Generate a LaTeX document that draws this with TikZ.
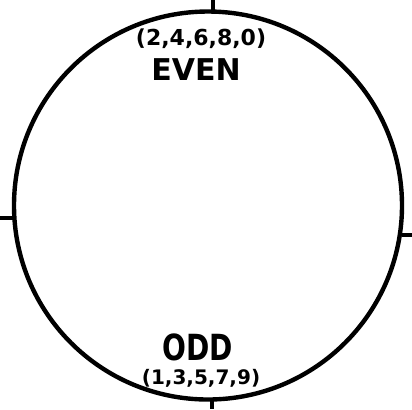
\documentclass[tikz,border=0pt]{standalone}
\usepackage{fontspec}
\setmainfont{DejaVu Sans}
\usetikzlibrary{positioning}
\tikzset{
  dial/.style={circle,draw,line width=2.2pt,minimum size=194pt,inner sep=0pt},
  tick/.style={line width=2.2pt},
  parity/.style={font=\bfseries\fontsize{15}{15}\selectfont,inner sep=0pt},
  digits/.style={font=\bfseries\fontsize{10}{10}\selectfont,inner sep=0pt}
}

\begin{document}
\begin{tikzpicture}[x=0.5pt,y=-0.5pt]
  \useasboundingbox (0,0) rectangle (412,409);
  % ---------- the dial ----------
  \node[dial] (dial) at (208,205.5) {};
  % ---------- ticks at the four quarters ----------
  \draw[tick] (213,0) -- (213,13);
  \draw[tick] (212,398) -- (212,409);
  \draw[tick] (0,218) -- (14,218);
  \draw[tick] (402,235) -- (412,235);
  % ---------- labels ----------
  \node[digits,font=\bfseries\fontsize{11}{11}\selectfont] (evendigits) at (201,39) {(2,4,6,8,0)};
  \node[parity] (even) at (196,70) {EVEN};
  \node[parity,font=\bfseries\fontsize{18}{18}\selectfont,xscale=0.78] (odd) at (198,347) {ODD};
  \node[digits] (odddigits) at (201,378) {(1,3,5,7,9)};
\end{tikzpicture}
\end{document}
